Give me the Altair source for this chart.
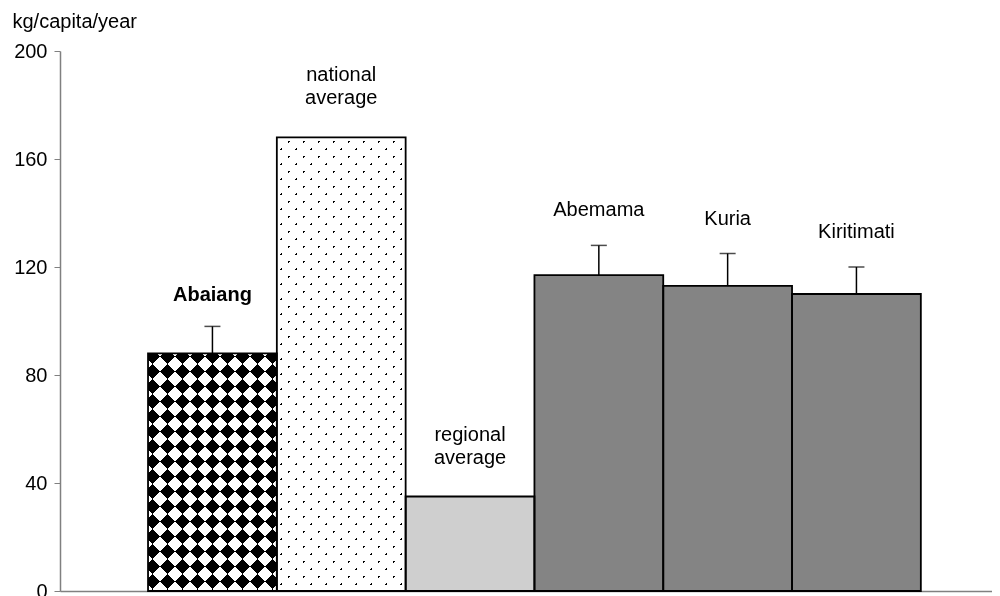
import altair as alt
import pandas as pd

# ---- data ----
categories = ["Abaiang", "national average", "regional average", "Abemama", "Kuria", "Kiritimati"]
values = [88, 168, 35, 117, 113, 110]
error_upper = [98, None, None, 128, 125, 120]
bar_labels = ["Abaiang", "national\naverage", "regional\naverage", "Abemama", "Kuria", "Kiritimati"]
y_ticks = [0, 40, 80, 120, 160, 200]
y_title = "kg/capita/year"

df = pd.DataFrame({
    "cat": categories,
    "value": values,
    "upper": error_upper,
    "label": bar_labels,
})
df["anchor"] = [u if u is not None and u == u else v for u, v in zip(df["upper"], df["value"])]
df_err = df.dropna(subset=["upper"])

FONT = "Liberation Sans, Arial, sans-serif"
PLOT_W, PLOT_H = 932, 540

x_enc = alt.X(
    "cat:N",
    sort=categories,
    scale=alt.Scale(domain=categories, paddingInner=0, paddingOuter=0.618, align=0.553),
    axis=alt.Axis(title=None, labels=False, ticks=False, domainColor="#808080", domainWidth=1.5,
                  grid=False, orient="bottom"),
)

y_axis = alt.Axis(
    values=y_ticks, title=y_title, titleAngle=0, titleAlign="left", titleBaseline="alphabetic",
    titleX=-48, titleY=-24, titleFontSize=20, titleFontWeight="normal", titleFont=FONT,
    titleColor="black", labelFont=FONT, labelFontSize=20, labelColor="black", labelPadding=7,
    tickSize=6, tickColor="#808080", domainColor="#808080", domainWidth=1.5, grid=False,
    orient="left",
)
y_scale = alt.Scale(domain=[0, 200], nice=False, zero=True)


def Y(field):
    return alt.Y(field, scale=y_scale, axis=y_axis)


def diag_gradient(k, px_per_t, period, dark, dark_color, light_color, flip):
    """Diagonal stripe fill (pattern emulation)."""
    dtp = period / px_per_t
    dtd = dark / px_per_t
    stops = []
    t = 0.0
    while t < 1.0:
        t1 = round(min(t + dtd, 1.0), 5)
        t2 = round(min(t + dtp, 1.0), 5)
        t0 = round(t, 5)
        stops += [
            alt.GradientStop(offset=t0, color=dark_color),
            alt.GradientStop(offset=t1, color=dark_color),
            alt.GradientStop(offset=t1, color=light_color),
            alt.GradientStop(offset=t2, color=light_color),
        ]
        t += dtp
    if flip:
        return alt.Gradient(gradient="linear", stops=stops, x1=1, y1=0, x2=0, y2=k)
    return alt.Gradient(gradient="linear", stops=stops, x1=0, y1=0, x2=1, y2=k)


base = alt.Chart(df)

fills = base.mark_bar().encode(
    x=x_enc,
    y=Y("value:Q"),
    color=alt.Color(
        "cat:N",
        scale=alt.Scale(domain=categories,
                        range=["#ffffff", "#ffffff", "#cfcfcf", "#848484", "#848484", "#848484"]),
        legend=None,
    ),
)

# Abaiang: diamond checker
band_w = 128.8
k_a = 88 * 2.7 / band_w
px_a = band_w * (1 + k_a * k_a)
ab = base.transform_filter(alt.datum.cat == "Abaiang")
ab_a = ab.mark_bar(fill=diag_gradient(k_a, px_a, 30, 15, "#000000", "#ffffff", False)).encode(
    x=x_enc, y=Y("value:Q"))
ab_b = ab.mark_bar(fill=diag_gradient(k_a, px_a, 30, 15, "#000000", "#ffffff", True),
                   blend="difference").encode(x=x_enc, y=Y("value:Q"))

# national average: sparse dots
k_n = 168 * 2.7 / band_w
px_n = band_w * (1 + k_n * k_n)
na = base.transform_filter(alt.datum.cat == "national average")
na_a = na.mark_bar(fill=diag_gradient(k_n, px_n, 15, 2.3, "#000000", "#ffffff", False)).encode(
    x=x_enc, y=Y("value:Q"))
na_b = na.mark_bar(fill=diag_gradient(k_n, px_n, 15, 2.3, "#000000", "#ffffff", True),
                   blend="screen").encode(x=x_enc, y=Y("value:Q"))

outline = base.mark_bar(fillOpacity=0, stroke="black", strokeWidth=1.8).encode(
    x=x_enc, y=Y("value:Q"))

err_rule = alt.Chart(df_err).mark_rule(color="black", strokeWidth=1.5).encode(
    x=x_enc, y=Y("value:Q"), y2="upper:Q")
err_cap = alt.Chart(df_err).mark_tick(color="black", thickness=1.5, size=16, orient="horizontal").encode(
    x=x_enc, y=Y("upper:Q"))

txt_kw = dict(fontSize=20, baseline="bottom", align="center", lineBreak="\n",
              lineHeight=23, font=FONT, color="black")
lab_bold = base.transform_filter(alt.datum.cat == "Abaiang").mark_text(
    fontWeight="bold", dy=-21, **txt_kw).encode(x=x_enc, y=Y("anchor:Q"), text="label:N")
lab_err = base.transform_filter(
    alt.FieldOneOfPredicate(field="cat", oneOf=["Abemama", "Kuria", "Kiritimati"])
).mark_text(dy=-25, **txt_kw).encode(x=x_enc, y=Y("anchor:Q"), text="label:N")
lab_avg = base.transform_filter(
    alt.FieldOneOfPredicate(field="cat", oneOf=["national average", "regional average"])
).mark_text(dy=-52, **txt_kw).encode(x=x_enc, y=Y("anchor:Q"), text="label:N")

chart = alt.layer(
    fills, ab_a, ab_b, na_a, na_b, outline, err_rule, err_cap, lab_bold, lab_err, lab_avg
).properties(
    width=PLOT_W, height=PLOT_H,
    background="white",
    autosize=alt.AutoSizeParams(type="none"),
    padding={"left": 52, "top": 43, "right": 0, "bottom": 5},
).configure_view(strokeWidth=0, stroke="transparent").configure_axis(grid=False)

chart.save("out.html", embed_options={"renderer": "svg", "actions": False})
